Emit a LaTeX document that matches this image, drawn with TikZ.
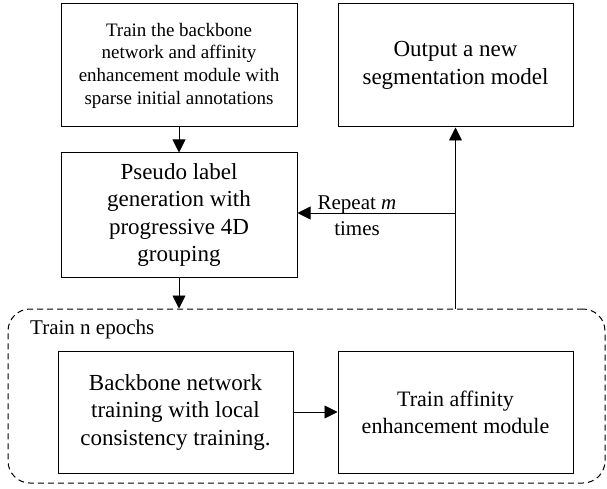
\documentclass[tikz,border=0pt]{standalone}
\usepackage{fontspec}
\setmainfont{Liberation Serif}
\usetikzlibrary{arrows.meta}
\begin{document}
\begin{tikzpicture}[x=1pt,y=-1pt,
  box/.style={draw, line width=1pt, rectangle, align=center, inner sep=0pt},
  arr/.style={line width=0.9pt, -{Triangle[length=13pt,width=13pt]}},
  conn/.style={line width=0.9pt},
  bigfont/.style={font=\fontsize{23}{27.5}\selectfont},
  smallfont/.style={font=\fontsize{19}{22.7}\selectfont}]
\useasboundingbox (0,0) rectangle (607,489);
\node[box, smallfont, minimum width=236pt, minimum height=123pt] (b1) at (179,65.5)
  {Train the backbone\\network and affinity\\enhancement module with\\sparse initial annotations};
\node[box, bigfont, minimum width=235pt, minimum height=123pt] (b2) at (455.5,65.5)
  {Output a new\\segmentation model};
\node[box, bigfont, minimum width=236pt, minimum height=124pt] (b3) at (179,215)
  {Pseudo label\\generation with\\progressive 4D\\grouping};
\node[draw, dashed, dash pattern=on 6pt off 4pt, line width=1pt, rounded corners=22pt,
  minimum width=597pt, minimum height=174pt, inner sep=0pt] (loop) at (306.5,396) {};
\node[font=\fontsize{21}{25}\selectfont, anchor=west, inner sep=0pt] (lbl) at (30,329) {Train n epochs};
\node[box, bigfont, minimum width=235pt, minimum height=122pt] (b4) at (175.5,412)
  {Backbone network\\training with local\\consistency training.};
\node[box, font=\fontsize{22}{27}\selectfont, minimum width=235pt, minimum height=122pt] (b5) at (455.5,412)
  {Train affinity\\enhancement module};
\node[font=\fontsize{21}{26}\selectfont, align=center, inner sep=0pt] (rep) at (357,216)
  {Repeat \textit{m}\\times};
\coordinate (j) at (455.5,213);
\draw[arr] (b1.south) -- (b3.north);
\draw[arr] (b3.south) -- (b3.south |- loop.north);
\draw[arr] (b4.east) -- (b5.west);
\draw[arr] (b2.south |- loop.north) -- (b2.south);
\draw[arr] (j) -- (j -| b3.east);
\end{tikzpicture}
\end{document}
